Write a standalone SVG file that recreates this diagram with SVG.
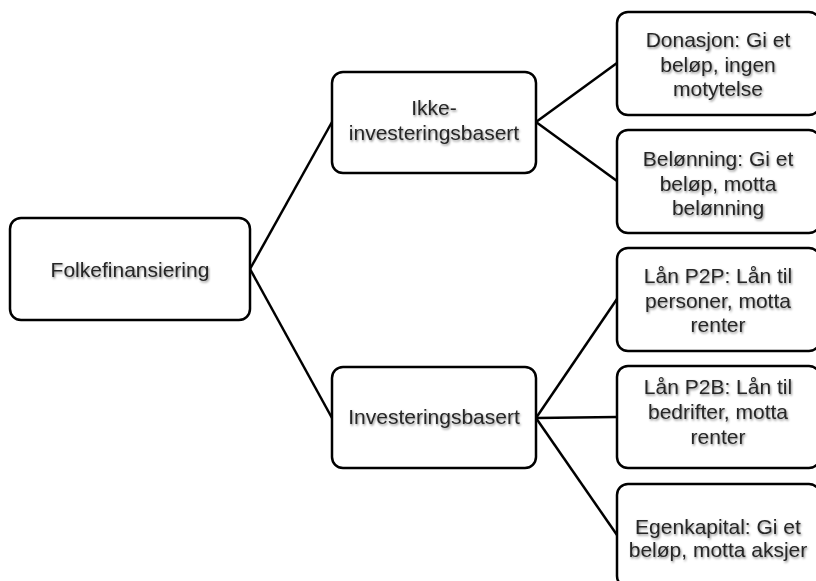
<svg xmlns="http://www.w3.org/2000/svg" width="816" height="581" viewBox="0 0 816 581">
<defs>
<filter id="sh" x="-10%" y="-30%" width="120%" height="160%">
<feDropShadow dx="1" dy="1.5" stdDeviation="1.1" flood-color="#000" flood-opacity="0.45"/>
</filter>
</defs>
<style>
.box{fill:#fff;stroke:#000;stroke-width:2.5}
.t{font-family:"Liberation Sans",Arial,sans-serif;font-size:21px;fill:#262626;text-anchor:middle;filter:url(#sh)}
.c{stroke:#000;stroke-width:2.5;fill:none}
</style>
<rect width="816" height="581" fill="#fff"/>
<g id="connectors">
<line class="c" x1="250" y1="269" x2="332" y2="122"/>
<line class="c" x1="250" y1="269" x2="332" y2="418"/>
<line class="c" x1="536" y1="122" x2="617" y2="63"/>
<line class="c" x1="536" y1="122" x2="617" y2="181"/>
<line class="c" x1="536" y1="418" x2="617" y2="299"/>
<line class="c" x1="536" y1="418" x2="617" y2="417"/>
<line class="c" x1="536" y1="418" x2="617" y2="535"/>
</g>
<g id="root">
<rect class="box" x="10" y="218" width="240" height="102" rx="11"/>
<text class="t" x="130" y="277">Folkefinansiering</text>
</g>
<g id="ikke">
<rect class="box" x="332" y="72" width="204" height="101" rx="11"/>
<text class="t" x="434" y="115">Ikke-</text>
<text class="t" x="434" y="140">investeringsbasert</text>
</g>
<g id="inv">
<rect class="box" x="332" y="367" width="204" height="101" rx="11"/>
<text class="t" x="434" y="424">Investeringsbasert</text>
</g>
<g id="donasjon">
<rect class="box" x="617" y="12" width="203" height="103" rx="11"/>
<text class="t" x="718" y="47">Donasjon: Gi et</text>
<text class="t" x="718" y="72">beløp, ingen</text>
<text class="t" x="718" y="96">motytelse</text>
</g>
<g id="belonning">
<rect class="box" x="617" y="130" width="203" height="103" rx="11"/>
<text class="t" x="718" y="166">Belønning: Gi et</text>
<text class="t" x="718" y="191">beløp, motta</text>
<text class="t" x="718" y="215">belønning</text>
</g>
<g id="p2p">
<rect class="box" x="617" y="248" width="203" height="103" rx="11"/>
<text class="t" x="718" y="283">Lån P2P: Lån til</text>
<text class="t" x="718" y="308">personer, motta</text>
<text class="t" x="718" y="332">renter</text>
</g>
<g id="p2b">
<rect class="box" x="617" y="366" width="203" height="102" rx="11"/>
<text class="t" x="718" y="394">Lån P2B: Lån til</text>
<text class="t" x="718" y="419">bedrifter, motta</text>
<text class="t" x="718" y="444">renter</text>
</g>
<g id="egenkapital">
<rect class="box" x="617" y="484" width="203" height="103" rx="11"/>
<text class="t" x="718" y="534">Egenkapital: Gi et</text>
<text class="t" x="718" y="557">beløp, motta aksjer</text>
</g>
</svg>
